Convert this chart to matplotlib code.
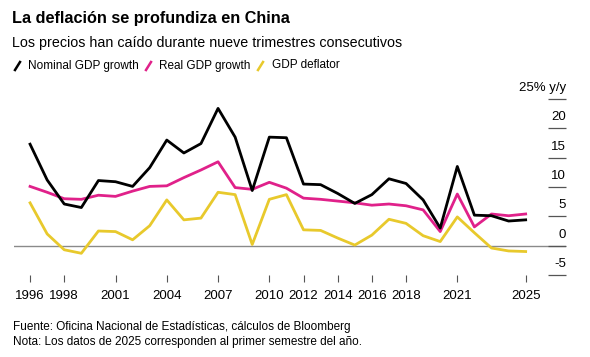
import matplotlib
matplotlib.use("Agg")
import matplotlib.pyplot as plt
import matplotlib.transforms as mtransforms
from matplotlib.lines import Line2D

plt.rcParams['font.family'] = ['Liberation Sans', 'DejaVu Sans']

# Datos (variación anual, %)
years = list(range(1996, 2026))
nominal = [17.3, 11.2, 7.1, 6.5, 11.1, 10.9, 10.1, 13.3, 18.0, 15.8,
           17.4, 23.4, 18.5, 9.4, 18.5, 18.4, 10.5, 10.4, 8.9, 7.2,
           8.7, 11.4, 10.6, 7.8, 3.0, 13.5, 5.2, 5.1, 4.2, 4.4]
real = [10.1, 9.1, 8.0, 7.9, 8.6, 8.4, 9.3, 10.1, 10.2, 11.6,
        12.9, 14.3, 9.9, 9.6, 10.8, 9.8, 8.1, 7.9, 7.6, 7.3,
        6.9, 7.1, 6.8, 6.1, 2.4, 8.8, 3.2, 5.4, 5.1, 5.4]
deflator = [7.3, 2.0, -0.7, -1.3, 2.5, 2.4, 1.0, 3.4, 7.8, 4.4,
            4.7, 9.1, 8.7, 0.2, 7.9, 8.7, 2.7, 2.6, 1.3, 0.1,
            1.8, 4.5, 3.8, 1.7, 0.7, 4.9, 2.2, -0.4, -0.9, -1.0]

xticks = [1996, 1998, 2001, 2004, 2007, 2010, 2012, 2014, 2016, 2018, 2021, 2025]
yticks = [25, 20, 15, 10, 5, 0, -5]
ylabels = ['25% y/y', '20', '15', '10', '5', '0', '-5']

black = '#000000'
magenta = '#e0218a'
yellow = '#e8c92c'

fig = plt.figure(figsize=(5.9, 3.57), dpi=100)
ax = fig.add_axes([14 / 590, 1 - 275 / 357, 552 / 590, 176 / 357])

ax.axhline(0, color='#8a8a8a', lw=1.0, zorder=1)
ax.plot(years, deflator, color=yellow, lw=2.0, zorder=2)
ax.plot(years, real, color=magenta, lw=2.0, zorder=3)
ax.plot(years, nominal, color=black, lw=2.0, zorder=4)

ax.set_xlim(1995.06, 2027.36)
ax.set_ylim(-5, 25)

for s in ax.spines.values():
    s.set_visible(False)

ax.set_xticks(xticks)
ax.set_xticklabels([str(t) for t in xticks], fontsize=9.5)
ax.tick_params(axis='x', length=5, width=0.8, color='#555555', pad=6)
ax.set_yticks([])

# marcas y etiquetas del eje y (a la derecha, encima de cada marca)
ax.hlines(yticks, 0.967, 1.0, transform=ax.get_yaxis_transform(),
          color='#555555', lw=0.9, clip_on=False)
off = mtransforms.offset_copy(ax.get_yaxis_transform(), fig=fig, x=0, y=8, units='dots')
for v, lab in zip(yticks, ylabels):
    ax.text(1.0, v, lab, transform=off, ha='right', va='baseline', fontsize=9.5)

# títulos
fig.text(12 / 590, 1 - 19 / 357, 'La deflación se profundiza en China',
         fontsize=11.7, fontweight='bold', va='center', ha='left')
fig.text(12 / 590, 1 - 43 / 357, 'Los precios han caído durante nueve trimestres consecutivos',
         fontsize=10.3, va='center', ha='left')

# leyenda
legend_items = [('Nominal GDP growth', black, 15, 28),
                ('Real GDP growth', magenta, 146, 159),
                ('GDP deflator', yellow, 258, 272)]
for name, col, x0, xt in legend_items:
    fig.add_artist(Line2D([x0 / 590, (x0 + 5) / 590], [1 - 70 / 357, 1 - 62 / 357],
                          transform=fig.transFigure, color=col, lw=1.8))
    fig.text(xt / 590, 1 - 65.5 / 357, name, fontsize=8.5, va='center', ha='left')

# notas
fig.text(13 / 590, 1 - 327 / 357, 'Fuente: Oficina Nacional de Estadísticas, cálculos de Bloomberg',
         fontsize=8.5, va='center', ha='left')
fig.text(13 / 590, 1 - 342 / 357, 'Nota: Los datos de 2025 corresponden al primer semestre del año.',
         fontsize=8.5, va='center', ha='left')

fig.savefig('out.png', dpi=100)
